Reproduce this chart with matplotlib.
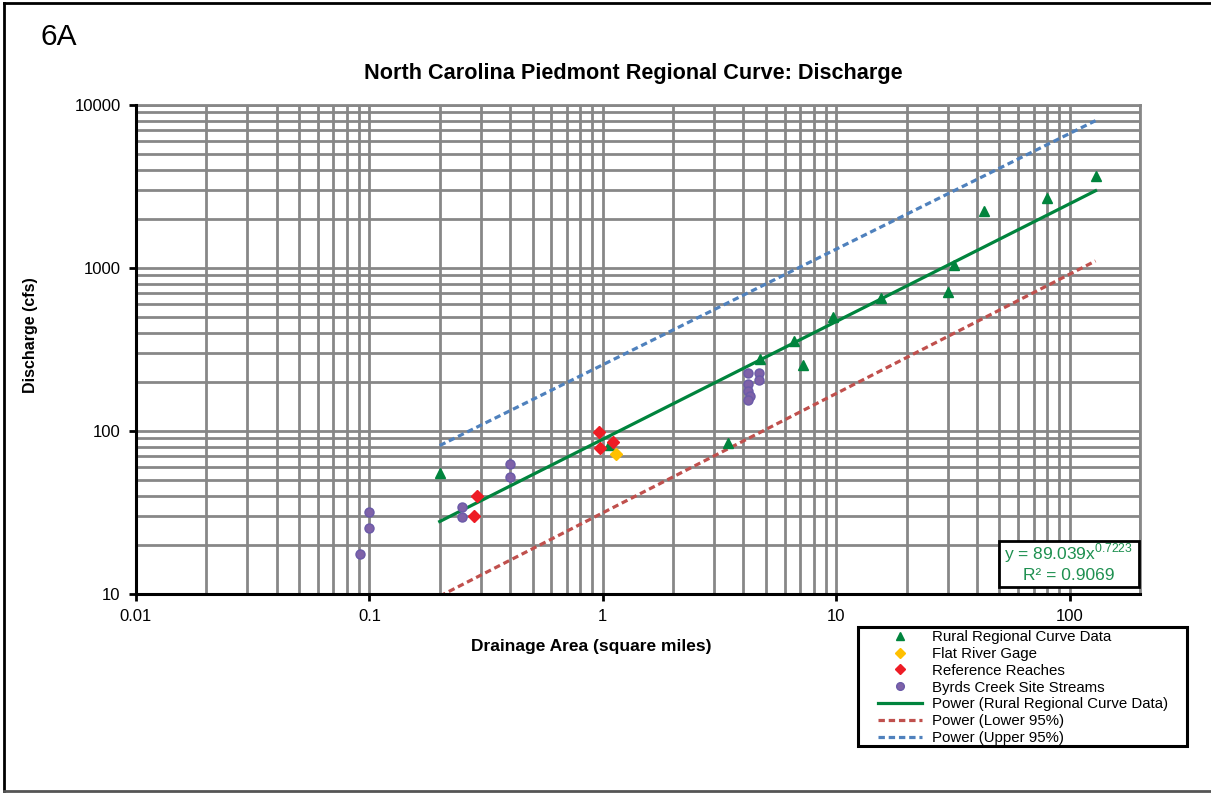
import numpy as np
import matplotlib
matplotlib.use("Agg")
import matplotlib.pyplot as plt
from matplotlib.ticker import FixedLocator, NullFormatter
from matplotlib.lines import Line2D
from matplotlib.patches import Rectangle

plt.rcParams['font.family'] = ['Liberation Sans', 'DejaVu Sans']
plt.rcParams['mathtext.fontset'] = 'custom'
plt.rcParams['mathtext.rm'] = 'Liberation Sans'

# rural regional curve data (drainage area sq mi, discharge cfs)
rural_area = [0.2, 1.06, 3.45, 4.7, 6.6, 7.2, 9.7, 15.5, 30, 32, 43, 80, 129]
rural_q = [55, 82, 85, 276, 355, 255, 500, 655, 710, 1045, 2230, 2700, 3670]

flat_area = [1.14]
flat_q = [72]

ref_area = [0.28, 0.29, 0.96, 0.97, 1.1]
ref_q = [30, 40, 98, 79, 86]

byrds_area = [0.091, 0.1, 0.1, 0.25, 0.25, 0.4, 0.4,
              4.17, 4.68, 4.68, 4.17, 4.17, 4.28, 4.17]
byrds_q = [17.5, 32, 25.5, 34, 29.5, 63, 52,
           227, 227, 205, 195, 177, 165, 156]

# power trendlines y = a * x^b, drawn over the rural area range
fit_coef = [89.039, 0.7223]
lower_coef = [31.5, 0.732]
upper_coef = [255.0, 0.7095]
fit_range = [0.2, 129]

fig = plt.figure(figsize=(12.11, 7.93), dpi=100)
ax = fig.add_axes([136/1211, 1-594/793, (1140-136)/1211, (594-105)/793])
ax.set_xscale('log')
ax.set_yscale('log')
ax.set_xlim(0.01, 200)
ax.set_ylim(10, 10000)

grid_c = '#878787'
ax.xaxis.set_major_locator(FixedLocator([0.01, 0.1, 1, 10, 100]))
ax.yaxis.set_major_locator(FixedLocator([10, 100, 1000, 10000]))
xminor = [m * 10.0**e for e in range(-2, 3) for m in range(2, 10)]
yminor = [m * 10.0**e for e in range(1, 4) for m in range(2, 10)]
ax.xaxis.set_minor_locator(FixedLocator(xminor))
ax.yaxis.set_minor_locator(FixedLocator(yminor))
ax.xaxis.set_minor_formatter(NullFormatter())
ax.yaxis.set_minor_formatter(NullFormatter())
ax.set_xticklabels(['0.01', '0.1', '1', '10', '100'])
ax.set_yticklabels(['10', '100', '1000', '10000'])
ax.grid(True, which='both', color=grid_c, lw=2.0)
ax.set_axisbelow(True)
ax.tick_params(which='major', direction='out', length=5, width=2, color='black',
               labelsize=12, pad=6)
ax.tick_params(which='minor', length=0)
for s in ['top', 'right']:
    ax.spines[s].set_color(grid_c)
    ax.spines[s].set_linewidth(2.0)
for s in ['left', 'bottom']:
    ax.spines[s].set_color('black')
    ax.spines[s].set_linewidth(2.2)
    ax.spines[s].set_zorder(5)

xs = np.logspace(np.log10(fit_range[0]), np.log10(fit_range[1]), 60)
ax.plot(rural_area, rural_q, ls='none', marker='^', ms=7, color='#00843D',
        label='Rural Regional Curve Data', zorder=4)
ax.plot(flat_area, flat_q, ls='none', marker='D', ms=6.5, color='#FFC000',
        label='Flat River Gage', zorder=4)
ax.plot(ref_area, ref_q, ls='none', marker='D', ms=6.5, color='#EE1C25',
        label='Reference Reaches', zorder=4)
ax.plot(byrds_area, byrds_q, ls='none', marker='o', ms=6.5, color='#7F62A8',
        markeredgecolor='#6A5AA8', label='Byrds Creek Site Streams', zorder=4)
ax.plot(xs, fit_coef[0] * xs**fit_coef[1], color='#00843D', lw=2.3,
        label='Power (Rural Regional Curve Data)', zorder=3)
ax.plot(xs, lower_coef[0] * xs**lower_coef[1], color='#C0504D', lw=2.3,
        ls=(0, (2, 1.2)), label='Power (Lower 95%)', zorder=3)
ax.plot(xs, upper_coef[0] * xs**upper_coef[1], color='#4F81BD', lw=2.3,
        ls=(0, (2, 1.2)), label='Power (Upper 95%)', zorder=3)

fig.text(633/1211, 1-73/793, 'North Carolina Piedmont Regional Curve: Discharge',
         ha='center', va='center', fontsize=15.6, fontweight='bold')
fig.text(41/1211, 1-37/793, '6A', ha='left', va='center', fontsize=21.5)
fig.text(591/1211, 1-647/793, 'Drainage Area (square miles)',
         ha='center', va='center', fontsize=12.5, fontweight='bold')
fig.text(30/1211, 1-335/793, 'Discharge (cfs)', rotation=90,
         ha='center', va='center', fontsize=11.5, fontweight='bold')

# equation box
fig.patches.append(Rectangle((999/1211, 1-587/793), 140/1211, 46/793,
                             transform=fig.transFigure, facecolor='white',
                             edgecolor='black', lw=2, zorder=6))
eq_c = '#1E9050'
fig.text(1068/1211, 1-553/793, r'y = 89.039x$^{\mathregular{0.7223}}$',
         ha='center', va='center', fontsize=12.5, color=eq_c, zorder=7)
fig.text(1069/1211, 1-575/793, 'R² = 0.9069',
         ha='center', va='center', fontsize=12.5, color=eq_c, zorder=7)

# legend box drawn separately, entries without frame
fig.patches.append(Rectangle((858/1211, 1-746/793), 329/1211, 119/793,
                             transform=fig.transFigure, facecolor='white',
                             edgecolor='black', lw=2.2, zorder=2))
handles, labels = ax.get_legend_handles_labels()
leg = fig.legend(handles, labels, loc='upper left',
                 bbox_to_anchor=(878/1211, 1-630/793), fontsize=10.8,
                 frameon=False, handlelength=2.95, handletextpad=0.65,
                 labelspacing=0.19, borderpad=0.0, borderaxespad=0,
                 markerscale=0.85)
leg.set_zorder(8)

# outer border of the figure panel
fig.add_artist(Line2D([4/1211, 4/1211], [1-791/793, 1-3/793], color='black', lw=2))
fig.add_artist(Line2D([4/1211, 1], [1-3/793, 1-3/793], color='black', lw=2))
fig.add_artist(Line2D([4/1211, 1], [1-791/793, 1-791/793], color='#555555', lw=2))

fig.savefig('out.png', dpi=100)
